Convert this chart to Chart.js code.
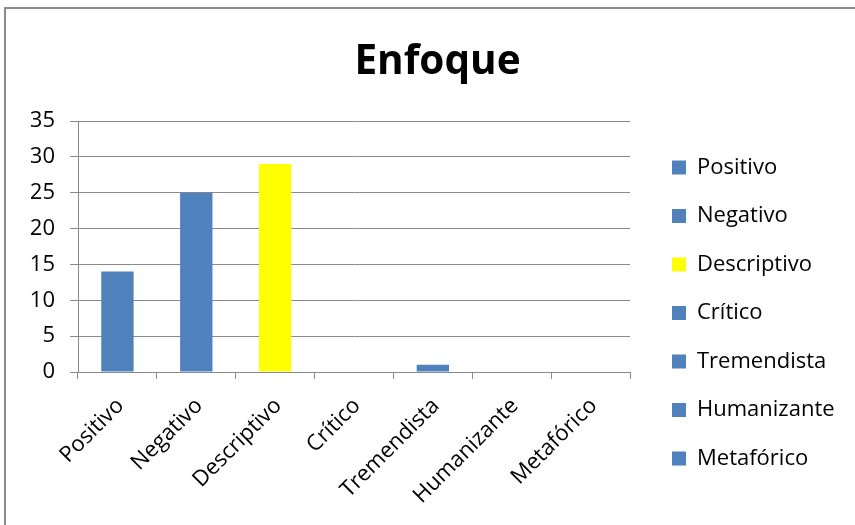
<!DOCTYPE html>
<html>
<head>
<meta charset="utf-8">
<script src="https://cdn.jsdelivr.net/npm/chart.js@4/dist/chart.umd.min.js"></script>
<style>
  html, body { margin: 0; padding: 0; background: #fff; overflow: hidden; }
  #wrap { position: relative; width: 855px; height: 525px; }
  #frame { position: absolute; left: 4px; top: 7px; width: 900px; height: 600px;
           border-left: 2px solid #8a8a8a; border-top: 2px solid #8a8a8a; box-sizing: border-box; }
  canvas { position: absolute; left: 0; top: 0; }
</style>
</head>
<body>
<div id="wrap">
  <div id="frame"></div>
  <canvas id="c" width="855" height="525"></canvas>
</div>
<script>
const chartTitle = 'Enfoque';
const categories = ['Positivo', 'Negativo', 'Descriptivo', 'Crítico', 'Tremendista', 'Humanizante', 'Metafórico'];
const values = [14, 25, 29, 0, 1, 0, 0];
const barColors = ['#4F81BD', '#4F81BD', '#FFFF00', '#4F81BD', '#4F81BD', '#4F81BD', '#4F81BD'];
const yTicks = [0, 5, 10, 15, 20, 25, 30, 35];

const FONT = "'Open Sans', 'DejaVu Sans', sans-serif";
const gridColor = '#8a8a8a';

new Chart(document.getElementById('c'), {
  type: 'bar',
  data: {
    labels: categories,
    datasets: [{
      label: chartTitle,
      data: values,
      backgroundColor: barColors,
      borderWidth: 0,
      barPercentage: 0.41,
      categoryPercentage: 1.0
    }]
  },
  options: {
    responsive: false,
    animation: false,
    devicePixelRatio: 1,
    layout: { padding: { left: 31, right: 11, top: 0, bottom: 0 } },
    plugins: {
      tooltip: { enabled: false },
      title: {
        display: true,
        text: chartTitle,
        color: '#000',
        font: { family: FONT, size: 40.5, weight: 'bold', lineHeight: 1.2 },
        padding: { top: 38.2, bottom: 34.2 }
      },
      legend: {
        display: true,
        position: 'right',
        align: 'start',
        maxWidth: 198.5,
        title: { display: true, text: '', font: { size: 10, lineHeight: 1.2 }, padding: { top: 118, bottom: 0 } },
        labels: {
          color: '#000',
          font: { family: FONT, size: 22 },
          boxWidth: 14,
          boxHeight: 14,
          padding: 26.5,
          generateLabels: function () {
            return categories.map((c, i) => ({
              text: c,
              fillStyle: barColors[i],
              strokeStyle: barColors[i],
              fontColor: '#000',
              lineWidth: 0,
              hidden: false,
              index: i
            }));
          }
        }
      }
    },
    scales: {
      x: {
        offset: true,
        grid: { display: true, offset: true, drawOnChartArea: false, drawTicks: true, tickLength: 7, color: gridColor, lineWidth: 1 },
        border: { display: true, color: gridColor, width: 1 },
        ticks: {
          autoSkip: false,
          minRotation: 45,
          maxRotation: 45,
          labelOffset: 3,
          padding: 14,
          color: '#000',
          font: { family: FONT, size: 22 }
        },
        afterFit: function (s) { s.height = 153; }
      },
      y: {
        position: 'left',
        min: 0,
        max: 35,
        afterBuildTicks: function (s) { s.ticks = yTicks.map(v => ({ value: v })); },
        grid: { color: gridColor, lineWidth: 1, tickLength: 8, drawTicks: true },
        border: { display: true, color: gridColor, width: 1 },
        ticks: {
          stepSize: 5,
          padding: 15,
          color: '#000',
          font: { family: FONT, size: 22 }
        },
        afterFit: function (s) { s.width = 47; }
      },
      yR: {
        position: 'right',
        display: true,
        grid: { display: false, drawTicks: false },
        border: { display: false },
        ticks: { display: false },
        afterFit: function (s) { s.width = 15.5; }
      }
    }
  }
});
</script>
</body>
</html>
